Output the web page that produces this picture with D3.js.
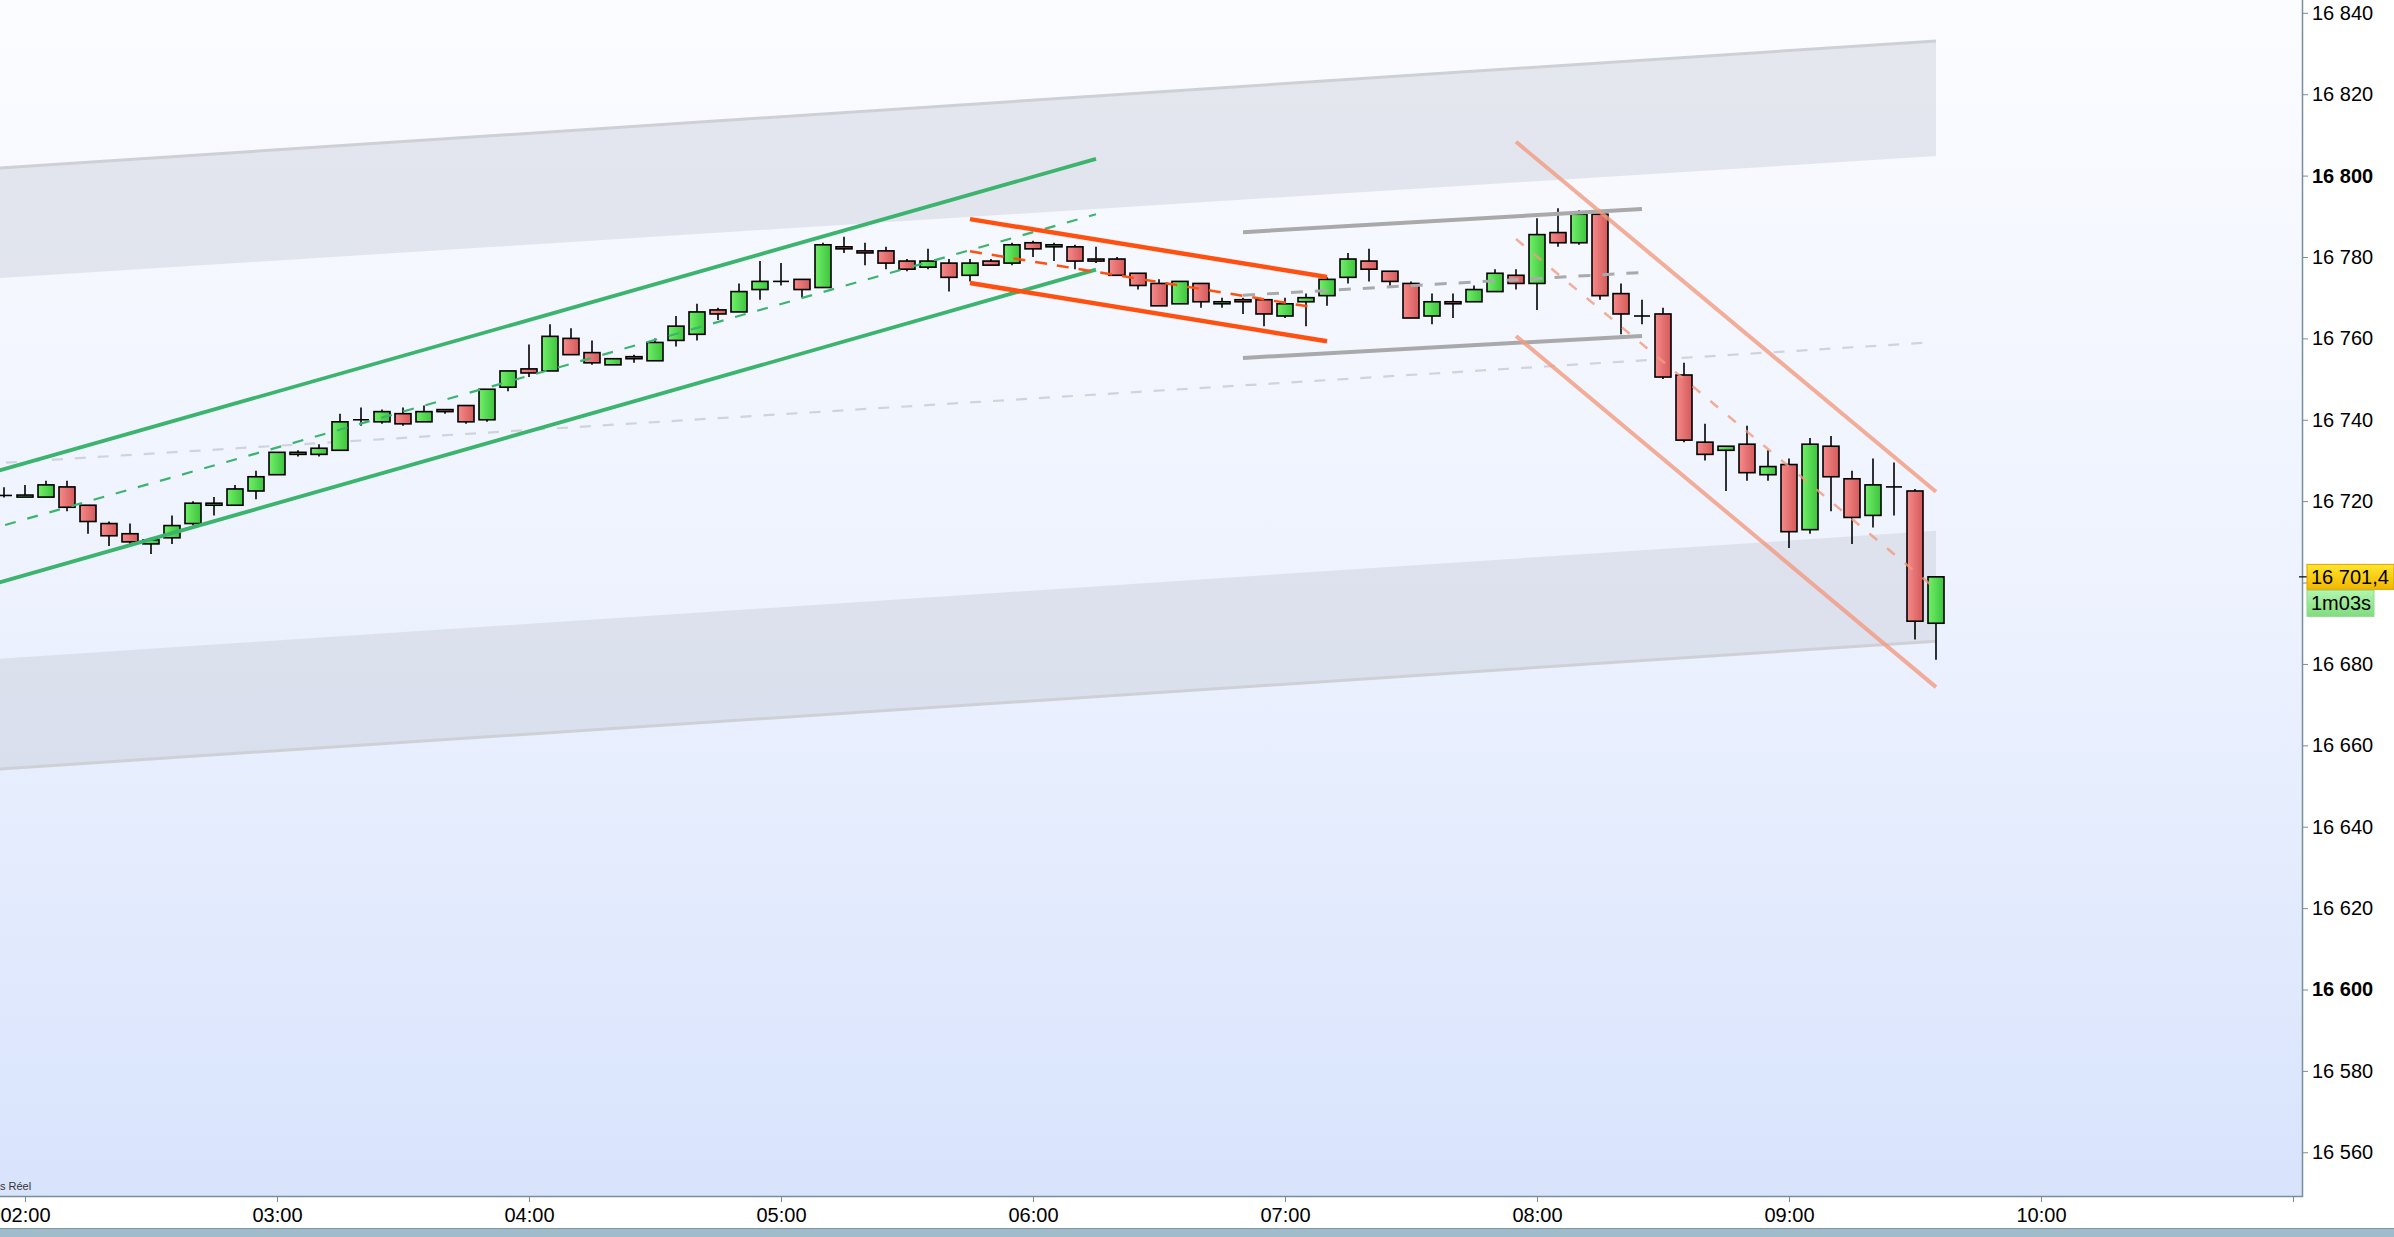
<!DOCTYPE html>
<html>
<head>
<meta charset="utf-8">
<script src="https://cdn.jsdelivr.net/npm/d3@7"></script>
<style>
    html, body { margin: 0; padding: 0; background: #ffffff; }
    svg { display: block; }
    text { font-family: "Liberation Sans", Arial, sans-serif; }
</style>
</head>
<body>
<div id="chart"></div>
<script>
// 5 minute candles, 01:55 -> 09:35
const times = [
    "01:55",
    "02:00","02:05","02:10","02:15","02:20","02:25","02:30","02:35","02:40","02:45","02:50","02:55",
    "03:00","03:05","03:10","03:15","03:20","03:25","03:30","03:35","03:40","03:45","03:50","03:55",
    "04:00","04:05","04:10","04:15","04:20","04:25","04:30","04:35","04:40","04:45","04:50","04:55",
    "05:00","05:05","05:10","05:15","05:20","05:25","05:30","05:35","05:40","05:45","05:50","05:55",
    "06:00","06:05","06:10","06:15","06:20","06:25","06:30","06:35","06:40","06:45","06:50","06:55",
    "07:00","07:05","07:10","07:15","07:20","07:25","07:30","07:35","07:40","07:45","07:50","07:55",
    "08:00","08:05","08:10","08:15","08:20","08:25","08:30","08:35","08:40","08:45","08:50","08:55",
    "09:00","09:05","09:10","09:15","09:20","09:25","09:30","09:35"
];

const opens = [
    16721.4,
    16721, 16721, 16723.5, 16719, 16714.5, 16712, 16709.5, 16711, 16714.5, 16719, 16719, 16722.5,
    16726.5, 16731.5, 16731.5, 16732.5, 16740, 16739.5, 16741.5, 16739.5, 16742.5, 16743.5, 16740, 16748,
    16752.5, 16752, 16760, 16756.5, 16753.5, 16755.5, 16754.5, 16759.5, 16761, 16767, 16766.5, 16772,
    16774, 16774.5, 16772.5, 16782.5, 16781.5, 16781.5, 16779, 16777.5, 16778.5, 16775.5, 16779, 16778.5,
    16783.5, 16782.5, 16782.5, 16779.5, 16779.5, 16776, 16773.5, 16768.5, 16773.5, 16768.5, 16769.5, 16769.5,
    16765.5, 16769, 16770.5, 16775, 16779, 16776.5, 16773.5, 16765.5, 16769, 16769, 16771.5, 16775.5,
    16773.5, 16786, 16783.5, 16790.5, 16771, 16765.5, 16766, 16751, 16734.5, 16732.5, 16734, 16726.5,
    16729, 16713, 16733.5, 16725.5, 16716.5, 16723.5, 16722.5, 16690
];

const highs = [
    16723.4,
    16724, 16725, 16725, 16719, 16715, 16714.5, 16711, 16716.5, 16720, 16721, 16724, 16727.5,
    16732, 16732.5, 16734, 16741.5, 16743, 16742.5, 16743, 16743.5, 16742.5, 16743.5, 16747.5, 16752,
    16758.5, 16763.5, 16762.5, 16759.5, 16755, 16756, 16760, 16765.5, 16768.5, 16767.5, 16773.5, 16779,
    16778.5, 16774.5, 16783.5, 16785, 16783.5, 16782.5, 16779.5, 16782, 16779.5, 16779.5, 16779.5, 16783.5,
    16784, 16783.5, 16783, 16782.5, 16780, 16776, 16774.5, 16774, 16773.5, 16770, 16770, 16769.5,
    16770, 16771, 16775, 16781, 16782, 16776.5, 16774, 16771, 16771, 16773, 16777, 16777,
    16789.5, 16792, 16791.5, 16791, 16773.5, 16769.5, 16767.5, 16754, 16739, 16733.5, 16738.5, 16732.5,
    16730.5, 16735.5, 16736, 16727.5, 16730.5, 16729.5, 16723, 16701.5
];

const lows = [
    16720.9,
    16721, 16721, 16717.5, 16712, 16709, 16709, 16707, 16709.5, 16714, 16716.5, 16719, 16720.5,
    16726.5, 16731, 16731, 16732.5, 16738.5, 16739, 16738.5, 16739.5, 16741.5, 16739, 16739.5, 16747,
    16750.5, 16752, 16756, 16753.5, 16753.5, 16754, 16754.5, 16758, 16759.5, 16764.5, 16766.5, 16769.5,
    16773, 16770, 16772.5, 16781, 16778, 16777, 16776.5, 16777, 16771.5, 16774, 16778, 16778,
    16780, 16779, 16777, 16778.5, 16775.5, 16772, 16768, 16768.5, 16767.5, 16767.5, 16766, 16763,
    16765, 16763, 16768, 16773.5, 16774, 16772.5, 16765, 16763.5, 16765, 16769, 16771.5, 16772,
    16767, 16782.5, 16783, 16769.5, 16761, 16763.5, 16750, 16734.5, 16730, 16722.5, 16725, 16725,
    16708.5, 16712, 16717.5, 16709.5, 16713.5, 16716.5, 16686, 16681
];

const closes = [
    16721.4,
    16721.5, 16724, 16718.5, 16715, 16711.5, 16710, 16710.5, 16714, 16719.5, 16719.5, 16723, 16726,
    16732, 16732, 16733, 16739.5, 16740, 16742, 16739, 16742, 16742, 16739.5, 16747.5, 16752,
    16751.5, 16760.5, 16756, 16754, 16755, 16755, 16759, 16763, 16766.5, 16766, 16771.5, 16774,
    16774, 16772, 16783, 16782, 16781, 16778.5, 16777, 16779, 16775, 16778.5, 16778, 16783,
    16782, 16783, 16779, 16779, 16775.5, 16773, 16768, 16774, 16769, 16769, 16769, 16766,
    16768.5, 16770, 16774.5, 16779.5, 16777, 16774, 16765, 16769, 16768.5, 16772, 16776, 16773.5,
    16785.5, 16783.5, 16790.5, 16770.5, 16766, 16765.5, 16750.5, 16735, 16731.5, 16733.5, 16727, 16728.5,
    16712.5, 16734, 16726, 16716, 16724, 16723.5, 16690.5, 16701.4
];

const priceTicks = [16560, 16580, 16600, 16620, 16640, 16660, 16680, 16700, 16720, 16740, 16760, 16780, 16800, 16820, 16840];
const boldTicks = [16600, 16800];
const hourTicks = ["02:00", "03:00", "04:00", "05:00", "06:00", "07:00", "08:00", "09:00", "10:00", "11:00"];

// drawn objects: [start time, end time] and prices at both ends
const bandTimes = ["01:50", "09:35"];
const upperBandTop = [16801.6, 16833.1];
const upperBandBottom = [16774.6, 16804.8];
const lowerBandTop = [16681.0, 16712.7];
const lowerBandBottom = [16653.9, 16685.6];

const longDashTimes = ["01:50", "09:32"];
const longDash = [16729.1, 16758.9];

const greenTimes = ["01:50", "06:15"];
const greenUpper = [16726.4, 16804.1];
const greenLower = [16698.9, 16776.9];
const greenMid = [16712.6, 16790.5];

const orangeTimes = ["05:45", "07:10"];
const orangeUpper = [16789.3, 16775.1];
const orangeLower = [16773.6, 16759.3];
const orangeMidTimes = ["05:45", "07:07"];
const orangeMid = [16781.4, 16767.6];

const greyTimes = ["06:50", "08:25"];
const greyUpper = [16786.1, 16791.8];
const greyLower = [16755.2, 16760.6];
const greyMid = [16770.6, 16776.2];

const salmonTimes = ["07:55", "09:35"];
const salmonUpper = [16808.3, 16722.3];
const salmonLower = [16760.6, 16674.3];
const salmonMid = [16784.4, 16698.4];

const lastPriceText = "16 701,4";
const countdownText = "1m03s";
const sourceText = "s Réel";

const dims = {
    width: 2394,
    height: 1237,
    plotRight: 2302,
    plotBottom: 1196,
    toolbarTop: 1228
};

const parseTime = d3.timeParse("%H:%M");
const hourFormat = d3.timeFormat("%H:%M");
const priceFormat = d3.formatLocale({
    decimal: ",",
    thousands: " ",
    grouping: [3],
    currency: ["", ""]
}).format(",d");

function init() {
    const candles = times.map((t, i) => ({
        time: parseTime(t),
        open: opens[i],
        high: highs[i],
        low: lows[i],
        close: closes[i]
    }));

    const x = d3.scaleTime()
        .domain([parseTime("02:00"), parseTime("10:00")])
        .range([25, 2041]);

    const y = d3.scaleLinear()
        .domain([16600, 16800])
        .range([989.5, 175.6]);

    const svg = d3.select("#chart").append("svg")
        .attr("width", dims.width)
        .attr("height", dims.height);

    addDefs(svg);

    svg.append("rect")
        .attr("width", dims.width)
        .attr("height", dims.height)
        .attr("fill", "#ffffff");

    svg.append("rect")
        .attr("width", dims.plotRight)
        .attr("height", dims.plotBottom)
        .attr("fill", "url(#bgGrad)");

    const plot = svg.append("g").attr("clip-path", "url(#plotClip)");

    const pt = (t, p) => [x(parseTime(t)), y(p)];

    // grey bands
    drawBand(plot, pt, bandTimes, upperBandTop, upperBandBottom, upperBandTop);
    drawBand(plot, pt, bandTimes, lowerBandTop, lowerBandBottom, lowerBandBottom);

    drawSegment(plot, pt, longDashTimes, longDash, "#d0d3dc", 2.2, "11 12", 1);

    drawCandles(plot, candles, x, y);

    // channels
    drawSegment(plot, pt, greenTimes, greenUpper, "#3cb46e", 3.8, null, 1);
    drawSegment(plot, pt, greenTimes, greenLower, "#3cb46e", 3.8, null, 1);
    drawSegment(plot, pt, greenTimes, greenMid, "#3cb46e", 2.2, "11 12", 1);

    drawSegment(plot, pt, orangeTimes, orangeUpper, "#ff5010", 4.5, null, 1);
    drawSegment(plot, pt, orangeTimes, orangeLower, "#ff5010", 4.5, null, 1);
    drawSegment(plot, pt, orangeMidTimes, orangeMid, "#ff5010", 2.5, "12 10", 1);

    drawSegment(plot, pt, greyTimes, greyUpper, "#a9a9a9", 4, null, 1);
    drawSegment(plot, pt, greyTimes, greyLower, "#a9a9a9", 4, null, 1);
    drawSegment(plot, pt, greyTimes, greyMid, "#aaaaaa", 3, "12 12", 1);

    drawSegment(plot, pt, salmonTimes, salmonUpper, "#f39a7e", 4, null, 0.8);
    drawSegment(plot, pt, salmonTimes, salmonLower, "#f39a7e", 4, null, 0.8);
    drawSegment(plot, pt, salmonTimes, salmonMid, "#f39a7e", 2.5, "10 13", 0.8);

    plot.append("text")
        .attr("x", 0)
        .attr("y", dims.plotBottom - 6)
        .attr("font-size", 11)
        .attr("fill", "#333")
        .text(sourceText);

    const lastPrice = closes[closes.length - 1];
    drawAxes(svg, x, y, lastPrice);
    drawPriceLabel(svg, y, lastPrice);

    svg.append("rect")
        .attr("y", dims.toolbarTop)
        .attr("width", dims.width)
        .attr("height", dims.height - dims.toolbarTop)
        .attr("fill", "#a0bccb");
    svg.append("line")
        .attr("x1", 0).attr("x2", dims.width)
        .attr("y1", dims.toolbarTop + 0.5).attr("y2", dims.toolbarTop + 0.5)
        .attr("stroke", "#7c97a6");
}

function addDefs(svg) {
    const defs = svg.append("defs");

    const bg = defs.append("linearGradient")
        .attr("id", "bgGrad")
        .attr("x1", 0).attr("y1", 0).attr("x2", 0).attr("y2", 1);
    bg.append("stop").attr("offset", 0).attr("stop-color", "#fbfcff");
    bg.append("stop").attr("offset", 0.5).attr("stop-color", "#edf2fe");
    bg.append("stop").attr("offset", 1).attr("stop-color", "#d8e3fc");

    const red = defs.append("linearGradient")
        .attr("id", "redGrad")
        .attr("x1", 0).attr("y1", 0).attr("x2", 1).attr("y2", 0);
    red.append("stop").attr("offset", 0).attr("stop-color", "#f78a8a");
    red.append("stop").attr("offset", 1).attr("stop-color", "#d35a5a");

    const green = defs.append("linearGradient")
        .attr("id", "greenGrad")
        .attr("x1", 0).attr("y1", 0).attr("x2", 1).attr("y2", 0);
    green.append("stop").attr("offset", 0).attr("stop-color", "#72ef6a");
    green.append("stop").attr("offset", 1).attr("stop-color", "#3dc43c");

    const yellow = defs.append("linearGradient")
        .attr("id", "yellowGrad")
        .attr("x1", 0).attr("y1", 0).attr("x2", 0).attr("y2", 1);
    yellow.append("stop").attr("offset", 0).attr("stop-color", "#ffe52e");
    yellow.append("stop").attr("offset", 1).attr("stop-color", "#f2b600");

    const lightGreen = defs.append("linearGradient")
        .attr("id", "lightGreenGrad")
        .attr("x1", 0).attr("y1", 0).attr("x2", 0).attr("y2", 1);
    lightGreen.append("stop").attr("offset", 0).attr("stop-color", "#b2f6aa");
    lightGreen.append("stop").attr("offset", 1).attr("stop-color", "#80dc80");

    defs.append("clipPath")
        .attr("id", "plotClip")
        .append("rect")
        .attr("width", dims.plotRight)
        .attr("height", dims.plotBottom);
}

function drawBand(group, pt, bandT, top, bottom, edge) {
    const poly = [
        pt(bandT[0], top[0]),
        pt(bandT[1], top[1]),
        pt(bandT[1], bottom[1]),
        pt(bandT[0], bottom[0])
    ];
    group.append("path")
        .attr("d", d3.line()(poly) + "Z")
        .attr("fill", "#c6cad6")
        .attr("fill-opacity", 0.42);

    drawSegment(group, pt, bandT, edge, "#cfd0d6", 3, null, 1);
}

function drawSegment(group, pt, segT, prices, color, width, dash, opacity) {
    const line = group.append("path")
        .attr("d", d3.line()([pt(segT[0], prices[0]), pt(segT[1], prices[1])]))
        .attr("fill", "none")
        .attr("stroke", color)
        .attr("stroke-width", width)
        .attr("stroke-opacity", opacity);
    if (dash) {
        line.attr("stroke-dasharray", dash);
    }
}

function drawCandles(group, candles, x, y) {
    const bodyWidth = 16;

    const g = group.append("g");

    g.selectAll(".wick")
        .data(candles)
        .join("line")
        .attr("class", "wick")
        .attr("x1", d => x(d.time))
        .attr("x2", d => x(d.time))
        .attr("y1", d => y(d.high))
        .attr("y2", d => y(d.low))
        .attr("stroke", "#000")
        .attr("stroke-width", 1.6);

    const dojis = candles.filter(d => Math.abs(d.close - d.open) < 0.3);
    const bodies = candles.filter(d => Math.abs(d.close - d.open) >= 0.3);

    g.selectAll(".doji")
        .data(dojis)
        .join("line")
        .attr("class", "doji")
        .attr("x1", d => x(d.time) - bodyWidth / 2)
        .attr("x2", d => x(d.time) + bodyWidth / 2)
        .attr("y1", d => y(d.close))
        .attr("y2", d => y(d.close))
        .attr("stroke", "#000")
        .attr("stroke-width", 1.6);

    g.selectAll(".body")
        .data(bodies)
        .join("rect")
        .attr("class", "body")
        .attr("x", d => x(d.time) - bodyWidth / 2)
        .attr("width", bodyWidth)
        .attr("y", d => y(Math.max(d.open, d.close)))
        .attr("height", d => Math.max(2, Math.abs(y(d.open) - y(d.close))))
        .attr("fill", d => d.close > d.open ? "url(#greenGrad)" : "url(#redGrad)")
        .attr("stroke", "#000")
        .attr("stroke-width", 1.6);
}

function drawAxes(svg, x, y, lastPrice) {
    const axisColor = "#7a8d9c";

    // the tick label under the last price box is hidden, as on the platform
    const yAxis = d3.axisRight(y)
        .tickValues(priceTicks)
        .tickSize(6)
        .tickPadding(4)
        .tickFormat(d => Math.abs(d - lastPrice) < 10 ? "" : priceFormat(d));

    const yG = svg.append("g")
        .attr("transform", `translate(${dims.plotRight}, 0)`)
        .call(yAxis);

    yG.select(".domain").remove();
    yG.selectAll(".tick line").attr("stroke", axisColor);
    yG.selectAll(".tick text")
        .attr("font-size", 20)
        .attr("font-family", "'Liberation Sans', Arial, sans-serif")
        .attr("fill", "#000")
        .attr("font-weight", d => boldTicks.includes(d) ? "bold" : "normal");

    const xAxis = d3.axisBottom(x)
        .tickValues(hourTicks.map(parseTime))
        .tickSize(6)
        .tickPadding(6)
        .tickFormat(d => hourFormat(d) === "11:00" ? "" : hourFormat(d));

    const xG = svg.append("g")
        .attr("transform", `translate(0, ${dims.plotBottom})`)
        .call(xAxis);

    xG.select(".domain").remove();
    xG.selectAll(".tick line").attr("stroke", axisColor);
    xG.selectAll(".tick text")
        .attr("font-size", 20)
        .attr("font-family", "'Liberation Sans', Arial, sans-serif")
        .attr("fill", "#000");

    svg.append("line")
        .attr("x1", dims.plotRight + 0.5).attr("x2", dims.plotRight + 0.5)
        .attr("y1", 0).attr("y2", dims.plotBottom + 1)
        .attr("stroke", axisColor)
        .attr("stroke-width", 1.5);

    svg.append("line")
        .attr("x1", 0).attr("x2", dims.plotRight + 1)
        .attr("y1", dims.plotBottom + 0.5).attr("y2", dims.plotBottom + 0.5)
        .attr("stroke", axisColor)
        .attr("stroke-width", 1.5);
}

function drawPriceLabel(svg, y, lastPrice) {
    const py = y(lastPrice);
    const boxX = dims.plotRight + 5;

    svg.append("line")
        .attr("x1", dims.plotRight - 3).attr("x2", boxX)
        .attr("y1", py).attr("y2", py)
        .attr("stroke", "#000")
        .attr("stroke-width", 1.2);

    svg.append("rect")
        .attr("x", boxX)
        .attr("y", py - 12.5)
        .attr("width", dims.width - boxX)
        .attr("height", 25)
        .attr("fill", "url(#yellowGrad)")
        .attr("stroke", "#d9a300")
        .attr("stroke-width", 1);

    svg.append("text")
        .attr("x", boxX + 4)
        .attr("y", py + 7.5)
        .attr("font-size", 20)
        .attr("fill", "#000")
        .text(lastPriceText);

    svg.append("rect")
        .attr("x", boxX)
        .attr("y", py + 13.5)
        .attr("width", 67)
        .attr("height", 26)
        .attr("fill", "url(#lightGreenGrad)")
        .attr("stroke", "#8fd88f")
        .attr("stroke-width", 1);

    svg.append("text")
        .attr("x", boxX + 4)
        .attr("y", py + 33.5)
        .attr("font-size", 20)
        .attr("fill", "#000")
        .text(countdownText);
}

init();
</script>
</body>
</html>
